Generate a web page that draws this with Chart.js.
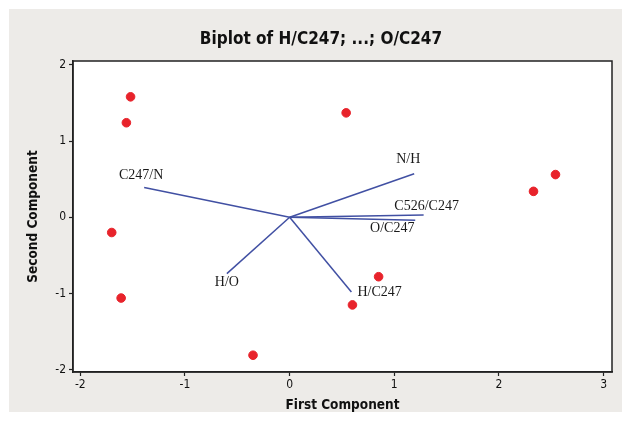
<!DOCTYPE html>
<html>
<head>
<meta charset="utf-8">
<script src="https://cdn.jsdelivr.net/npm/chart.js@4/dist/chart.umd.min.js"></script>
<style>
  html, body { margin: 0; padding: 0; background: #fff; }
  #wrap { width: 629px; height: 422px; }
</style>
</head>
<body>
<div id="wrap"><canvas id="chart" width="629" height="422"></canvas></div>
<script>
// scores (first component, second component)
const scoreX = [-1.52, -1.56, 0.54, 2.54, 2.33, -1.70, -1.61, 0.85, 0.60, -0.35];
const scoreY = [1.58, 1.24, 1.37, 0.56, 0.34, -0.20, -1.06, -0.78, -1.15, -1.81];

// loading vectors
const varNames = ['C247/N', 'N/H', 'C526/C247', 'O/C247', 'H/C247', 'H/O'];
const loadX = [-1.39, 1.19, 1.28, 1.20, 0.59, -0.60];
const loadY = [0.39, 0.57, 0.03, -0.04, -0.98, -0.74];

const xTicks = [-2, -1, 0, 1, 2, 3];
const yTicks = [-2, -1, 0, 1, 2];

const chartTitle = 'Biplot of H/C247; ...; O/C247';

// label placement next to each vector tip (pixels)
const labelOffsets = [[-3, -12, 'center'], [-6, -14, 'center'], [3, -9, 'center'],
                      [-23, 8, 'center'], [6, 0, 'left'], [0, 9, 'center']];

const vecColor = '#4150a3';
const sans = '"DejaVu Sans Condensed", "DejaVu Sans", sans-serif';

const datasets = [{
  type: 'scatter',
  data: scoreX.map((x, i) => ({ x: x, y: scoreY[i] })),
  backgroundColor: '#e8232b',
  borderColor: '#e8232b',
  pointRadius: 4.3,
  pointHoverRadius: 4.3
}];
varNames.forEach((n, i) => {
  datasets.push({
    type: 'scatter',
    label: n,
    data: [{ x: 0, y: 0 }, { x: loadX[i], y: loadY[i] }],
    showLine: true,
    borderColor: vecColor,
    borderWidth: 1.5,
    pointRadius: 0,
    fill: false
  });
});

const frame = {
  id: 'frame',
  beforeDraw(chart) {
    const c = chart.ctx, a = chart.chartArea;
    c.save();
    c.fillStyle = '#fff';
    c.fillRect(0, 0, chart.width, chart.height);
    c.fillStyle = '#edebe8';
    c.fillRect(9, 9, 613, 403);
    c.fillStyle = '#fff';
    c.fillRect(a.left, a.top, a.right - a.left, a.bottom - a.top);
    c.restore();
  },
  afterDatasetsDraw(chart) {
    const c = chart.ctx, a = chart.chartArea;
    const xs = chart.scales.x, ys = chart.scales.y;
    c.save();
    c.font = '14px "Liberation Serif", serif';
    c.fillStyle = '#1a1a1a';
    c.textBaseline = 'middle';
    varNames.forEach((n, i) => {
      const px = xs.getPixelForValue(loadX[i]);
      const py = ys.getPixelForValue(loadY[i]);
      const o = labelOffsets[i];
      c.textAlign = o[2];
      c.fillText(n, px + o[0], py + o[1]);
    });
    c.strokeStyle = '#222';
    c.lineWidth = 1.5;
    c.strokeRect(a.left, a.top, a.right - a.left, a.bottom - a.top);

    // title, centred a little right of the canvas middle like the original
    c.font = 'bold 17px ' + sans;
    c.fillStyle = '#111';
    c.textAlign = 'center';
    c.fillText(chartTitle, 321, 40);
    c.restore();
  }
};

new Chart(document.getElementById('chart'), {
  type: 'scatter',
  data: { datasets: datasets },
  plugins: [frame],
  options: {
    responsive: false,
    animation: false,
    layout: { padding: { left: 0, right: 17, top: 61, bottom: 0 } },
    plugins: {
      legend: { display: false },
      tooltip: { enabled: false },
      title: { display: false }
    },
    scales: {
      x: {
        type: 'linear',
        min: -2.07, max: 3.08,
        afterBuildTicks: s => { s.ticks = xTicks.map(v => ({ value: v })); },
        afterFit: s => { s.height = 50; },
        grid: { drawOnChartArea: false, drawTicks: true, tickLength: 4, tickColor: '#222', tickWidth: 1.2 },
        border: { display: true, color: '#222', width: 1.5 },
        ticks: { color: '#111', padding: 2, font: { family: sans, size: 12 } },
        title: {
          display: true, text: 'First Component', color: '#111',
          font: { family: sans, size: 13.5, weight: 'bold' },
          padding: { top: 2, bottom: 8 }
        }
      },
      y: {
        type: 'linear',
        min: -2.03, max: 2.05,
        afterBuildTicks: s => { s.ticks = yTicks.map(v => ({ value: v })); },
        afterFit: s => { s.width = 73; },
        grid: { drawOnChartArea: false, drawTicks: true, tickLength: 4, tickColor: '#222', tickWidth: 1.2 },
        border: { display: true, color: '#222', width: 1.5 },
        ticks: { color: '#111', padding: 3, font: { family: sans, size: 12 } },
        title: {
          display: true, text: 'Second Component', color: '#111',
          font: { family: sans, size: 13.5, weight: 'bold' },
          padding: { top: 25, bottom: 0 }
        }
      }
    }
  }
});
</script>
</body>
</html>
